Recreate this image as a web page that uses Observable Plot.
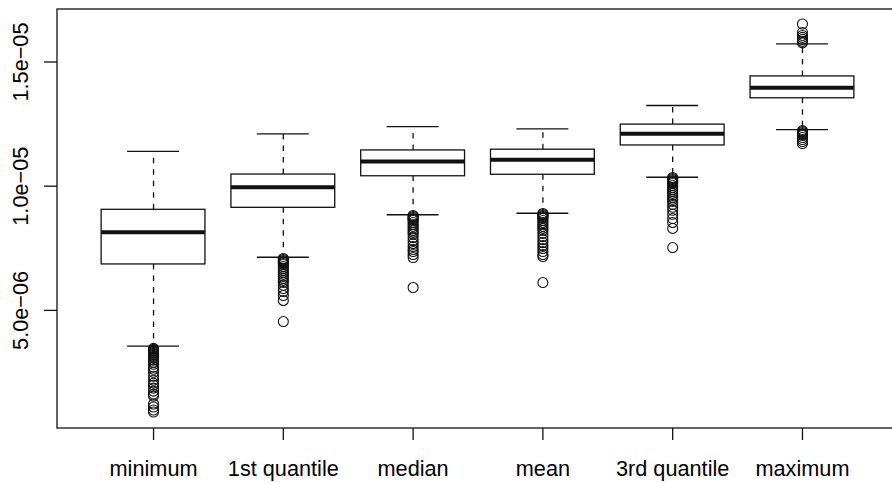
<!DOCTYPE html>
<html><head><meta charset="utf-8">
<script src="https://cdn.jsdelivr.net/npm/d3@7"></script>
<script src="https://cdn.jsdelivr.net/npm/@observablehq/plot@0.6"></script>
<style>body{margin:0;background:#fff;} svg{display:block}</style>
</head><body><div id="chart"></div>
<script>
const categories = ["minimum", "1st quantile", "median", "mean", "3rd quantile", "maximum"];
const whiskerLow  = [3.56e-6, 7.14e-6, 8.85e-6, 8.91e-6, 10.36e-6, 12.28e-6];
const q1          = [6.85e-6, 9.13e-6, 10.40e-6, 10.46e-6, 11.64e-6, 13.54e-6];
const median      = [8.15e-6, 9.96e-6, 10.99e-6, 11.06e-6, 12.11e-6, 13.96e-6];
const q3          = [9.05e-6, 10.47e-6, 11.44e-6, 11.47e-6, 12.48e-6, 14.42e-6];
const whiskerHigh = [11.40e-6, 12.11e-6, 12.40e-6, 12.31e-6, 13.25e-6, 15.73e-6];

const outliersMinimum = [3.47e-6, 3.43e-6, 3.39e-6, 3.35e-6, 3.31e-6, 3.27e-6, 3.23e-6, 3.19e-6, 3.15e-6, 3.11e-6, 3.07e-6, 2.99e-6, 2.91e-6, 2.83e-6, 2.71e-6, 2.63e-6, 2.51e-6, 2.35e-6, 2.19e-6, 2.07e-6, 1.99e-6, 1.87e-6, 1.75e-6, 1.63e-6, 1.55e-6, 1.23e-6, 1.11e-6, 0.99e-6, 0.91e-6];
const outliersQ1 = [7.09e-6, 7.05e-6, 7.01e-6, 6.97e-6, 6.93e-6, 6.89e-6, 6.85e-6, 6.77e-6, 6.69e-6, 6.61e-6, 6.53e-6, 6.45e-6, 6.37e-6, 6.29e-6, 6.21e-6, 6.13e-6, 6.01e-6, 5.88e-6, 5.76e-6, 5.60e-6, 5.40e-6, 4.55e-6];
const outliersMedian = [8.82e-6, 8.78e-6, 8.74e-6, 8.70e-6, 8.66e-6, 8.62e-6, 8.54e-6, 8.46e-6, 8.38e-6, 8.30e-6, 8.22e-6, 8.14e-6, 8.06e-6, 7.93e-6, 7.81e-6, 7.69e-6, 7.57e-6, 7.45e-6, 7.37e-6, 7.25e-6, 7.13e-6, 5.92e-6];
const outliersMean = [8.90e-6, 8.86e-6, 8.82e-6, 8.78e-6, 8.74e-6, 8.70e-6, 8.62e-6, 8.54e-6, 8.46e-6, 8.38e-6, 8.30e-6, 8.22e-6, 8.10e-6, 7.97e-6, 7.85e-6, 7.73e-6, 7.61e-6, 7.49e-6, 7.37e-6, 7.25e-6, 7.17e-6, 6.12e-6];
const outliersQ3 = [10.35e-6, 10.31e-6, 10.27e-6, 10.23e-6, 10.19e-6, 10.15e-6, 10.11e-6, 10.03e-6, 9.95e-6, 9.87e-6, 9.79e-6, 9.71e-6, 9.63e-6, 9.55e-6, 9.47e-6, 9.39e-6, 9.27e-6, 9.15e-6, 9.03e-6, 8.87e-6, 8.70e-6, 8.54e-6, 8.30e-6, 7.53e-6];
const outliersMaximum = [16.53e-6, 16.19e-6, 16.07e-6, 15.99e-6, 15.91e-6, 15.83e-6, 15.77e-6, 12.24e-6, 12.20e-6, 12.16e-6, 12.12e-6, 12.08e-6, 12.04e-6, 11.96e-6, 11.88e-6, 11.80e-6, 11.72e-6];

const yTicks = [5e-6, 1e-5, 1.5e-5];
const yTickLabels = ["5.0e\u221206", "1.0e\u221205", "1.5e\u221205"];

const xDomain = [0.26, 6.74];
const yDomain = [2.45e-7, 1.7114e-5];

const outlierGroups = [outliersMinimum, outliersQ1, outliersMedian, outliersMean, outliersQ3, outliersMaximum];
const stats = categories.map((c, i) => ({
  pos: i + 1, name: c, lo: whiskerLow[i], q1: q1[i], med: median[i], q3: q3[i], hi: whiskerHigh[i]
}));
const points = outlierGroups.flatMap((g, i) => g.map(v => ({pos: i + 1, v})));

const ink = "#111";
const lw = 1.3;

const chart = Plot.plot({
  width: 892,
  height: 483,
  marginLeft: 57,
  marginRight: 0,
  marginTop: 9,
  marginBottom: 55,
  style: {fontFamily: "'Liberation Sans', Arial, Helvetica, sans-serif", background: "white", color: "black"},
  x: {domain: xDomain, range: [57, 898], axis: null, label: null},
  y: {domain: yDomain, axis: null, label: null},
  marks: [
    // whiskers (dashed)
    Plot.ruleX(stats, {x: "pos", y1: "q3", y2: "hi", stroke: ink, strokeWidth: lw, strokeDasharray: "5.5,6"}),
    Plot.ruleX(stats, {x: "pos", y1: "q1", y2: "lo", stroke: ink, strokeWidth: lw, strokeDasharray: "5.5,6"}),
    // staples
    Plot.ruleY(stats, {y: "hi", x1: d => d.pos - 0.2, x2: d => d.pos + 0.2, stroke: ink, strokeWidth: lw}),
    Plot.ruleY(stats, {y: "lo", x1: d => d.pos - 0.2, x2: d => d.pos + 0.2, stroke: ink, strokeWidth: lw}),
    // boxes
    Plot.rect(stats, {x1: d => d.pos - 0.4, x2: d => d.pos + 0.4, y1: "q1", y2: "q3", fill: "white", stroke: ink, strokeWidth: lw}),
    // medians
    Plot.ruleY(stats, {y: "med", x1: d => d.pos - 0.4, x2: d => d.pos + 0.4, stroke: ink, strokeWidth: 4}),
    // outliers
    Plot.dot(points, {x: "pos", y: "v", r: 5, stroke: ink, strokeWidth: 1.1, fill: "none"}),
    // frame
    Plot.rect([0], {x1: () => xDomain[0], x2: () => xDomain[1], y1: () => yDomain[0], y2: () => yDomain[1], fill: "none", stroke: ink, strokeWidth: lw}),
    // axes
    Plot.axisX([1, 2, 3, 4, 5, 6], {anchor: "bottom", label: null, tickSize: 12, tickPadding: 20, tickFormat: i => categories[i - 1], fontSize: 21.7, stroke: ink, strokeWidth: lw, fill: "black"}),
    Plot.axisY(yTicks, {anchor: "left", label: null, tickSize: 13, tickFormat: () => "", stroke: ink, strokeWidth: lw}),
    Plot.text(yTicks, {y: d => d, text: (d, i) => yTickLabels[i], frameAnchor: "left", dx: -36, rotate: -90, textAnchor: "middle", lineAnchor: "middle", fontSize: 21.7, fill: "black"})
  ]
});
document.getElementById("chart").appendChild(chart);
</script>
</body></html>
